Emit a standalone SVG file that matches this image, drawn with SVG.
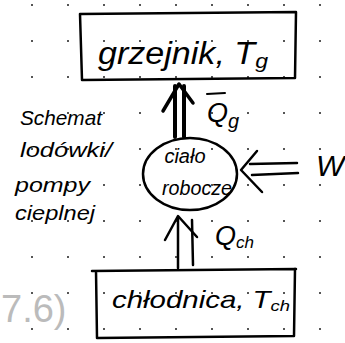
<svg xmlns="http://www.w3.org/2000/svg" width="345" height="343" viewBox="0 0 345 343">
<defs>
<pattern id="grid" x="0" y="0" width="36" height="36" patternUnits="userSpaceOnUse" patternTransform="translate(31 4)">
<rect x="0" y="0" width="2" height="2" fill="#555"/>
</pattern>
<style>
.ink{fill:none;stroke:#000;stroke-linecap:round;stroke-linejoin:round}
.hand{font-family:"Liberation Sans","DejaVu Sans",sans-serif;fill:#000;font-style:italic}
</style>
</defs>
<rect width="345" height="343" fill="#fff"/>
<rect width="345" height="343" fill="url(#grid)"/>
<text x="1" y="322" font-family="Liberation Sans,sans-serif" font-size="38" fill="#bbb">7.6)</text>
<g id="connectors">
<g id="arrow-Qg">
<path class="ink" d="M175 137 L175 86 M184 137 L184 86" stroke-width="4"/>
<path class="ink" d="M163 111 L179 84 L193 103" stroke-width="3.5"/>
</g>
<g id="arrow-W">
<path class="ink" d="M297 163 L250 164 M298 173 L252 175" stroke-width="2.5"/>
<path class="ink" d="M257 151 L241 170 L262 192" stroke-width="2.5"/>
</g>
<g id="arrow-Qch">
<path class="ink" d="M178 268 L178 218 M193 265 L192 220" stroke-width="2.5"/>
<path class="ink" d="M165 240 L178 216 L197 237" stroke-width="2.5"/>
</g>
</g>
<g id="grzejnik">
<path class="ink" d="M80 14 L296 12 L295 78 L82 80 Z" stroke-width="2.5"/>
<text class="hand" x="98" y="64" font-size="31" textLength="170" lengthAdjust="spacingAndGlyphs">grzejnik, T<tspan font-size="21" dy="4">g</tspan></text>
</g>
<g id="cialo-robocze">
<ellipse class="ink" cx="190" cy="174" rx="47" ry="36" stroke-width="2.5"/>
<text class="hand" x="185" y="163" font-size="20" text-anchor="middle">ciało</text>
<text class="hand" x="197" y="195" font-size="20" text-anchor="middle" textLength="70" lengthAdjust="spacingAndGlyphs">robocze</text>
</g>
<g id="chlodnica">
<path class="ink" d="M92 271 L296 269 M96 271 L97 338 L294 336 L295 269" stroke-width="2.5"/>
<text class="hand" x="112" y="308" font-size="24" textLength="178" lengthAdjust="spacingAndGlyphs">chłodnica, T<tspan font-size="15" dy="3">ch</tspan></text>
</g>
<g id="labels">
<text class="hand" x="207" y="122" font-size="27">Q<tspan font-size="20" dy="6">g</tspan></text>
<path class="ink" d="M207 94 L225 93" stroke-width="2"/>
<text class="hand" x="316" y="176" font-size="30">W</text>
<text class="hand" x="215" y="245" font-size="27">Q<tspan font-size="17" dy="3">ch</tspan></text>
<text class="hand" x="20" y="125" font-size="21" textLength="82" lengthAdjust="spacingAndGlyphs">Schemat</text>
<text class="hand" x="20" y="157" font-size="21" textLength="92" lengthAdjust="spacingAndGlyphs">lodówki/</text>
<text class="hand" x="15" y="192" font-size="21" textLength="75" lengthAdjust="spacingAndGlyphs">pompy</text>
<text class="hand" x="15" y="220" font-size="21" textLength="80" lengthAdjust="spacingAndGlyphs">cieplnej</text>
</g>
</svg>
